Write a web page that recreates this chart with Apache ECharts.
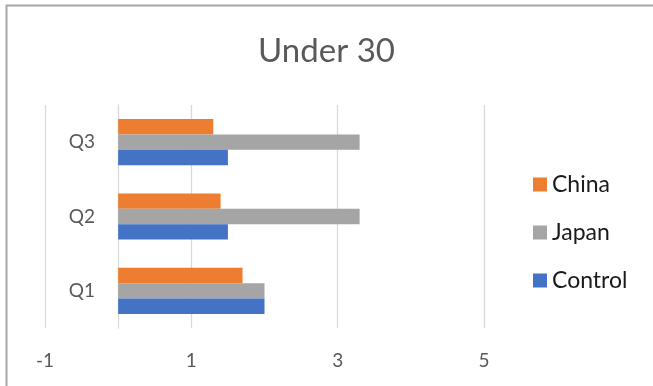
<!DOCTYPE html>
<html>
<head>
<meta charset="utf-8">
<script src="https://cdn.jsdelivr.net/npm/echarts@6/dist/echarts.min.js"></script>
<style>
  html, body { margin: 0; padding: 0; background: #fff; }
  #chart { width: 653px; height: 386px; }
</style>
</head>
<body>
<div id="chart"></div>
<script>
// categories (bottom to top) and series values
const quarters = ['Q1', 'Q2', 'Q3'];
const chinaValues = [1.7, 1.4, 1.3];
const japanValues = [2, 3.3, 3.3];
const controlValues = [2, 1.5, 1.5];
const seriesNames = ['China', 'Japan', 'Control'];
const seriesColors = ['#ED7D31', '#A5A5A5', '#4472C4'];

const chart = echarts.init(document.getElementById('chart'));

const option = {
  animation: false,
  title: {
    text: 'Under 30',
    left: 'center',
    top: 30,
    textStyle: { fontFamily: 'Lato', fontSize: 33, fontWeight: 'normal', color: '#595959' }
  },
  // chart border (only top/left visible in the crop)
  graphic: [{
    type: 'rect',
    shape: { x: 6.5, y: 5.5, width: 700, height: 420 },
    style: { fill: 'none', stroke: '#a6a6a6', lineWidth: 2 },
    silent: true
  }],
  legend: {
    orient: 'vertical',
    left: 533,
    top: 173,
    padding: 0,
    itemWidth: 14,
    itemHeight: 14,
    itemGap: 25,
    icon: 'rect',
    data: seriesNames,
    textStyle: { fontFamily: 'Lato', fontSize: 23, color: '#1a1a1a', lineHeight: 23 }
  },
  grid: { left: 45, right: 169, top: 105, bottom: 58, containLabel: false },
  xAxis: {
    type: 'value',
    min: -1,
    max: 5,
    interval: 2,
    axisLine: { show: false },
    axisTick: { show: false },
    axisLabel: { margin: 23, fontFamily: 'Lato', fontSize: 19, color: '#595959' },
    splitLine: { lineStyle: { color: '#d9d9d9', width: 1.3 } }
  },
  yAxis: {
    type: 'category',
    data: quarters,
    axisLine: { onZero: true, lineStyle: { color: '#d9d9d9', width: 1.3 } },
    axisTick: { show: false },
    // labels sit next to the zero line, not the grid edge
    axisLabel: { margin: -50, fontFamily: 'Lato', fontSize: 19, color: '#595959' }
  },
  series: [
    { name: 'China', type: 'bar', data: chinaValues, itemStyle: { color: seriesColors[0] }, barGap: 0, barCategoryGap: '38%' },
    { name: 'Japan', type: 'bar', data: japanValues, itemStyle: { color: seriesColors[1] }, barGap: 0, barCategoryGap: '38%' },
    { name: 'Control', type: 'bar', data: controlValues, itemStyle: { color: seriesColors[2] }, barGap: 0, barCategoryGap: '38%' }
  ]
};

chart.setOption(option);
</script>
</body>
</html>
